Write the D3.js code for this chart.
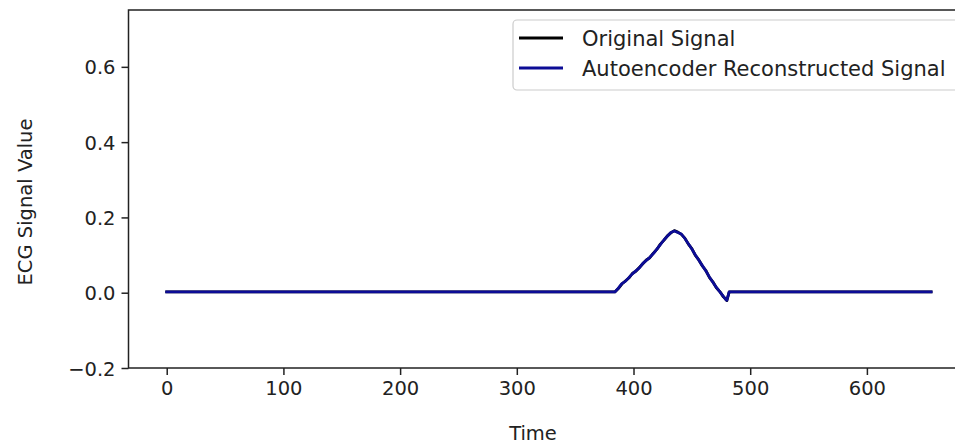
<!DOCTYPE html>
<html>
<head>
<meta charset="utf-8">
<script src="https://cdn.jsdelivr.net/npm/d3@7"></script>
<style>
  html, body { margin: 0; padding: 0; background: #fff; overflow: hidden; }
  svg { display: block; }
  text { font-family: "DejaVu Sans", sans-serif; fill: #222; }
</style>
</head>
<body>
<svg id="chart" width="955" height="447"></svg>
<script>
// ---- data ----
const timeValues = [0, 384, 387, 390, 393, 396, 399, 402, 405, 408, 411, 414, 417, 420, 423, 426, 429, 432, 435, 438, 441, 444, 447, 450, 453, 456, 459, 462, 465, 468, 471, 474, 477, 479, 480, 482, 655];
const originalSignal = [0.002, 0.002, 0.011, 0.023, 0.031, 0.039, 0.051, 0.057, 0.067, 0.077, 0.087, 0.093, 0.105, 0.115, 0.129, 0.139, 0.151, 0.159, 0.165, 0.161, 0.155, 0.145, 0.129, 0.117, 0.099, 0.087, 0.071, 0.059, 0.041, 0.029, 0.013, 0.003, -0.011, -0.017, -0.021, 0.002, 0.002];
const reconstructedSignal = [0.002, 0.002, 0.012, 0.024, 0.030, 0.040, 0.050, 0.058, 0.066, 0.078, 0.086, 0.094, 0.104, 0.116, 0.128, 0.140, 0.150, 0.160, 0.164, 0.160, 0.156, 0.144, 0.130, 0.116, 0.100, 0.086, 0.072, 0.058, 0.042, 0.028, 0.014, 0.002, -0.010, -0.018, -0.020, 0.002, 0.002];
const xTicks = [0, 100, 200, 300, 400, 500, 600];
const yTicks = [-0.2, 0.0, 0.2, 0.4, 0.6];
const seriesNames = ["Original Signal", "Autoencoder Reconstructed Signal"];
const seriesColors = ["#000000", "#0c0c96"];
const xLabel = "Time";
const yLabel = "ECG Signal Value";

// ---- layout ----
const svg = d3.select("#chart");
const plot = { left: 128.5, top: 10, bottom: 368, right: 969.3 };
const x = d3.scaleLinear().domain([-32.75, 687.75]).range([plot.left, plot.right]);
const y = d3.scaleLinear().domain([-0.2, 0.751]).range([plot.bottom, plot.top]);
const fontSize = 19.5;
const legendFont = 21;
const fmtY = d => (d < 0 ? "\u2212" : "") + Math.abs(d).toFixed(1);

// clip
svg.append("defs").append("clipPath").attr("id", "clip")
  .append("rect").attr("x", plot.left).attr("y", plot.top)
  .attr("width", plot.right - plot.left).attr("height", plot.bottom - plot.top);

// lines
const line = (vals) => d3.line().x((d, i) => x(timeValues[i])).y(d => y(d))(vals);
const g = svg.append("g").attr("clip-path", "url(#clip)");
[originalSignal, reconstructedSignal].forEach((vals, i) => {
  g.append("path").attr("d", line(vals))
    .attr("fill", "none").attr("stroke", seriesColors[i])
    .attr("stroke-width", 2.8).attr("stroke-linejoin", "round").attr("stroke-linecap", "square");
});

// axes
const xAxis = d3.axisBottom(x).tickValues(xTicks).tickSize(7).tickPadding(6).tickFormat(d3.format("d"));
const yAxis = d3.axisLeft(y).tickValues(yTicks).tickSize(7).tickPadding(6).tickFormat(fmtY);
const gx = svg.append("g").attr("transform", `translate(0,${plot.bottom})`).call(xAxis);
const gy = svg.append("g").attr("transform", `translate(${plot.left},0)`).call(yAxis);
[gx, gy].forEach(a => {
  a.select(".domain").remove();
  a.selectAll(".tick line").attr("stroke", "#222").attr("stroke-width", 1.5);
  a.selectAll(".tick text").attr("font-size", fontSize).attr("font-family", "DejaVu Sans").attr("fill", "#222");
});
gy.selectAll(".tick text").attr("dy", "0.36em");

// spines
svg.append("rect").attr("x", plot.left).attr("y", plot.top)
  .attr("width", plot.right - plot.left).attr("height", plot.bottom - plot.top)
  .attr("fill", "none").attr("stroke", "#222").attr("stroke-width", 1.5);

// axis labels
svg.append("text").attr("x", 533).attr("y", 440).attr("text-anchor", "middle")
  .attr("font-size", fontSize).text(xLabel);
svg.append("text").attr("transform", "translate(32,202) rotate(-90)").attr("text-anchor", "middle")
  .attr("font-size", fontSize).text(yLabel);

// legend
const lg = svg.append("g");
lg.append("rect").attr("x", 513).attr("y", 20).attr("width", 460).attr("height", 70)
  .attr("rx", 4).attr("fill", "#fff").attr("fill-opacity", 0.8)
  .attr("stroke", "#cccccc").attr("stroke-width", 1.2);
seriesNames.forEach((name, i) => {
  const cy = 38 + i * 30;
  lg.append("line").attr("x1", 519).attr("x2", 563).attr("y1", cy).attr("y2", cy)
    .attr("stroke", seriesColors[i]).attr("stroke-width", 2.8);
  lg.append("text").attr("x", 582).attr("y", cy).attr("dy", "0.36em")
    .attr("font-size", legendFont).text(name);
});
</script>
</body>
</html>
